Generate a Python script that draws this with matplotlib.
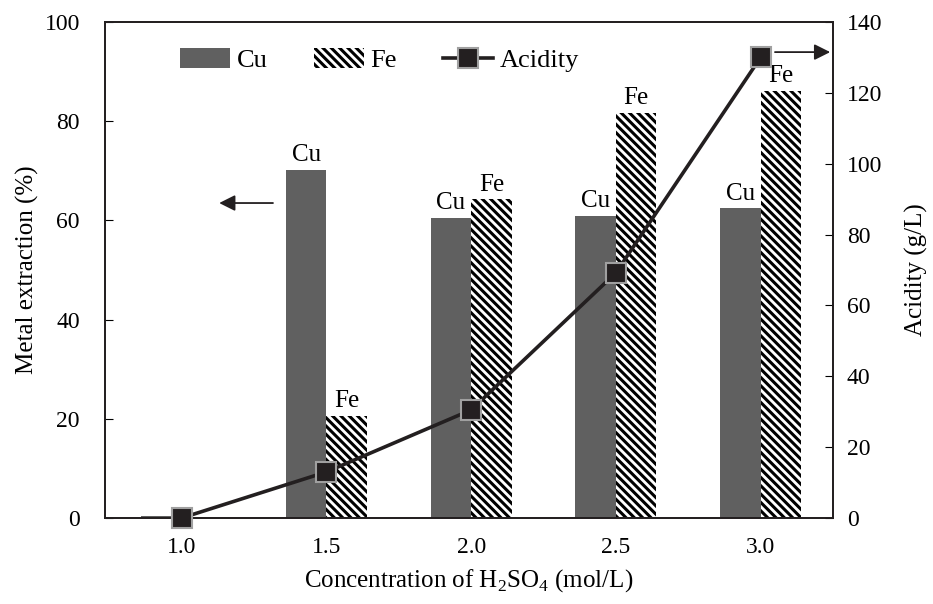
import matplotlib
matplotlib.use("Agg")
import matplotlib.pyplot as plt
import numpy as np

plt.rcParams['font.family'] = ['Liberation Serif', 'DejaVu Serif']
plt.rcParams['hatch.linewidth'] = 2.2
plt.rcParams['hatch.color'] = 'black'
plt.rcParams['mathtext.fontset'] = 'custom'
plt.rcParams['mathtext.rm'] = 'Liberation Serif'

concentration = ["1.0", "1.5", "2.0", "2.5", "3.0"]
cu_extraction = [0.5, 70.2, 60.5, 60.9, 62.5]
fe_extraction = [0.0, 20.6, 64.3, 81.7, 86.1]
acidity = [0.0, 13.0, 30.5, 69.2, 130.0]

x = np.arange(len(concentration))
w = 0.28

fig = plt.figure(figsize=(9.33, 6.04), dpi=100)
ax = fig.add_axes([0.1125, 0.1424, 0.7803, 0.8212])
ax2 = ax.twinx()

cu_bars = ax.bar(x - w / 2, cu_extraction, w, color='#606060', label='Cu', zorder=2)
fe_bars = ax.bar(x + w / 2, fe_extraction, w, color='white', edgecolor='black',
                 linewidth=0, hatch='\\\\\\\\', label='Fe', zorder=2)

for i in range(len(x)):
    if i == 0:
        continue
    ax.text(x[i] - w / 2, cu_extraction[i] + 0.7, 'Cu', ha='center', va='bottom', fontsize=18)
    ax.text(x[i] + w / 2, fe_extraction[i] + 0.7, 'Fe', ha='center', va='bottom', fontsize=18)

line, = ax2.plot(x, acidity, color='#231f20', linewidth=2.6, marker='s', markersize=14,
                 markerfacecolor='#231f20', markeredgecolor='#a0a0a0', markeredgewidth=1.5,
                 label='Acidity', zorder=5, clip_on=False)

ax.set_xlim(-0.53, 4.5)
ax.set_ylim(0, 100)
ax2.set_ylim(0, 140)
ax.set_xticks(x)
ax.set_xticklabels(concentration)
ax.set_yticks(np.arange(0, 101, 20))
ax2.set_yticks(np.arange(0, 141, 20))

ax.tick_params(axis='y', direction='in', length=6, labelsize=17, pad=18)
ax.tick_params(axis='x', length=0, labelsize=17, pad=14)
ax2.tick_params(axis='y', direction='in', length=6, labelsize=17, pad=10)

for a in (ax, ax2):
    for s in a.spines.values():
        s.set_linewidth(1.3)
        s.set_color('#231f20')

ax.set_xlabel('Concentration of H$_\\mathregular{2}$SO$_\\mathregular{4}$ (mol/L)', fontsize=18, labelpad=6)
ax.set_ylabel('Metal extraction (%)', fontsize=18, labelpad=4)
ax2.set_ylabel('Acidity (g/L)', fontsize=18, labelpad=16)

# direction arrows pointing to each axis
ax.annotate('', xy=(0.24, 63.5), xytext=(0.65, 63.5),
            arrowprops=dict(arrowstyle='-|>', color='#231f20', lw=1.3, mutation_scale=24))
ax2.annotate('', xy=(4.5, 131.5), xytext=(4.08, 131.5),
             arrowprops=dict(arrowstyle='-|>', color='#231f20', lw=1.3, mutation_scale=24))

ax.legend(handles=[cu_bars, fe_bars, line], loc='center left', bbox_to_anchor=(0.103, 0.923),
          ncol=3, frameon=False, fontsize=19, handlelength=1.9, handleheight=0.75,
          columnspacing=1.75, handletextpad=0.25, borderpad=0, borderaxespad=0)

fig.savefig('out.png', dpi=100)
